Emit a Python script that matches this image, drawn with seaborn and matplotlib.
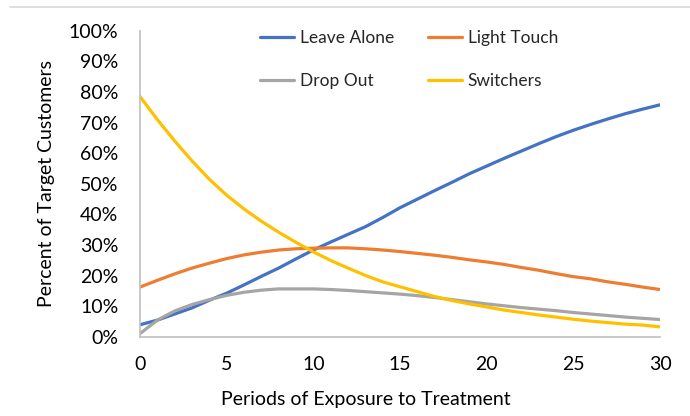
import matplotlib
matplotlib.use("Agg")
import matplotlib.pyplot as plt
from matplotlib.lines import Line2D
import seaborn as sns
import pandas as pd
import numpy as np

periods = list(range(31))
leave_alone = [4.0, 5.5, 7.5, 9.5, 12.0, 14.3, 17.0, 19.8, 22.5, 25.5, 28.4, 31.0, 33.5, 36.0, 39.0, 42.2,
               45.0, 47.8, 50.5, 53.3, 55.8, 58.3, 60.7, 63.1, 65.4, 67.5, 69.4, 71.2, 72.9, 74.4, 75.8]
light_touch = [16.3, 18.5, 20.6, 22.5, 24.1, 25.6, 26.8, 27.7, 28.4, 28.8, 29.0, 29.1, 29.1, 28.8, 28.4, 27.9,
               27.3, 26.7, 26.0, 25.2, 24.5, 23.7, 22.7, 21.8, 20.7, 19.7, 19.0, 18.0, 17.2, 16.3, 15.5]
drop_out = [1.1, 5.5, 8.5, 10.6, 12.2, 13.6, 14.6, 15.3, 15.7, 15.7, 15.7, 15.5, 15.2, 14.8, 14.4, 14.0,
            13.5, 12.9, 12.2, 11.5, 10.8, 10.2, 9.6, 9.1, 8.6, 8.0, 7.5, 7.0, 6.5, 6.1, 5.7]
switchers = [78.5, 71.0, 64.0, 57.5, 51.5, 46.3, 41.8, 37.8, 34.2, 30.9, 27.8, 25.0, 22.5, 20.1, 18.0, 16.4,
             14.8, 13.2, 11.9, 10.8, 9.8, 8.8, 8.0, 7.2, 6.5, 5.8, 5.2, 4.7, 4.2, 3.9, 3.3]

series_names = ["Leave Alone", "Light Touch", "Drop Out", "Switchers"]
series_values = [leave_alone, light_touch, drop_out, switchers]
colors = ["#4472C4", "#ED7D31", "#A5A5A5", "#FFC000"]
y_ticks = [0, 10, 20, 30, 40, 50, 60, 70, 80, 90, 100]
x_ticks = [0, 5, 10, 15, 20, 25, 30]

rows = []
for name, vals in zip(series_names, series_values):
    for p, v in zip(periods, vals):
        rows.append({"Period": p, "Value": v / 100.0, "Series": name})
df = pd.DataFrame(rows)

sns.set_style("white")
plt.rcParams["font.family"] = ["Lato", "DejaVu Sans"]

fig = plt.figure(figsize=(6.9, 4.16), dpi=100)
ax = fig.add_axes([140 / 690, 1 - 337 / 416, 520 / 690, 306.3 / 416])

sns.lineplot(data=df, x="Period", y="Value", hue="Series", hue_order=series_names,
             palette=colors, linewidth=2.3, ax=ax, legend=False)

ax.set_xlim(0, 30)
ax.set_ylim(0, 1.0)
ax.set_xticks(x_ticks)
ax.set_xticklabels([str(t) for t in x_ticks])
ax.set_yticks([t / 100 for t in y_ticks])
ax.set_yticklabels([f"{t}%" for t in y_ticks])

for s in ["top", "right"]:
    ax.spines[s].set_visible(False)
for s in ["left", "bottom"]:
    ax.spines[s].set_color("#BFBFBF")
    ax.spines[s].set_linewidth(1.2)

ax.tick_params(axis="both", direction="inout", length=11, width=1.2, color="#BFBFBF",
               labelsize=14, labelcolor="#000000")
ax.tick_params(axis="y", pad=10)
ax.tick_params(axis="x", pad=8)

ax.set_xlabel("Periods of Exposure to Treatment", fontsize=14, color="#000000")
ax.set_ylabel("Percent of Target Customers", fontsize=14, color="#000000")
ax.xaxis.label.set_va("center")
ax.xaxis.set_label_coords((366 - 140) / 520, -(400 - 337) / 306.3)
ax.yaxis.label.set_va("center")
ax.yaxis.set_label_coords((47 - 140) / 520, 0.5)

handles = [Line2D([0], [0], color=c, lw=2.3) for c in colors]
order = [0, 2, 1, 3]
leg = ax.legend([handles[i] for i in order], [series_names[i] for i in order],
                ncol=2, frameon=False, fontsize=12.5, handlelength=2.0, handletextpad=0.3,
                columnspacing=1.95, labelspacing=1.55, loc="upper left",
                bbox_to_anchor=((244 - 140) / 520, 1.0 + 16 / 306.3))

fig.add_artist(Line2D([10 / 690, 1.0], [1 - 7 / 416, 1 - 7 / 416], color="#D9D9D9", lw=1.2,
                      transform=fig.transFigure))

fig.savefig("out.png", dpi=100)
